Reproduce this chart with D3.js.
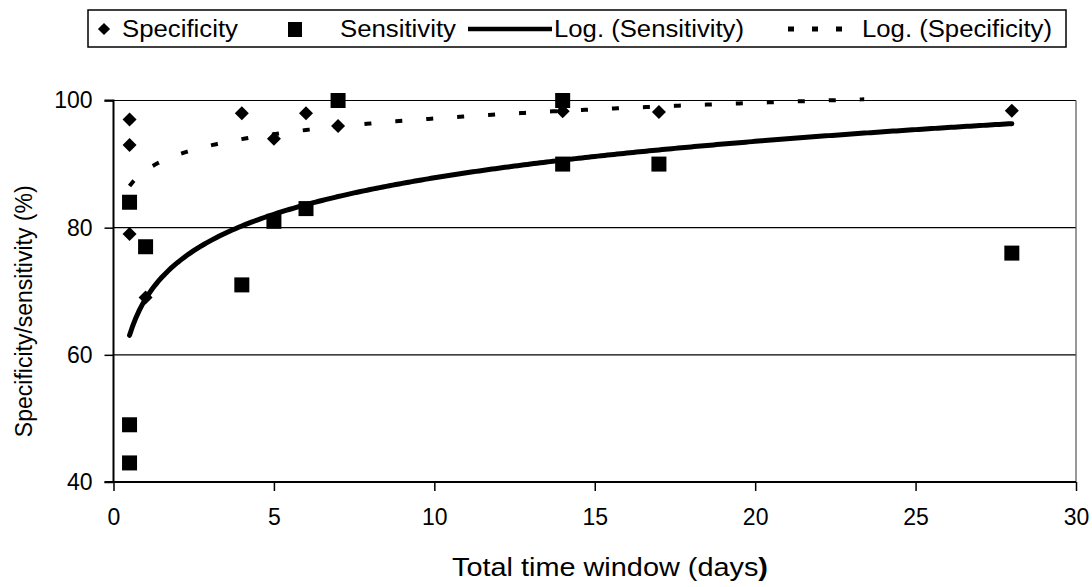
<!DOCTYPE html>
<html>
<head>
<meta charset="utf-8">
<script src="https://cdn.jsdelivr.net/npm/d3@7"></script>
<style>
  html, body { margin: 0; padding: 0; background: #fff; }
  svg { display: block; font-family: "Liberation Sans", Arial, sans-serif; }
</style>
</head>
<body>
<div id="chart"></div>
<script>
// ---- data ----
var specDays  = [0.5, 0.5, 0.5, 1, 4, 5, 6, 7, 14, 17, 28];
var specValue = [97, 93, 79, 69, 98, 94, 98, 96, 98.3, 98.2, 98.4];

var sensDays  = [0.5, 0.5, 0.5, 1, 4, 5, 6, 7, 14, 14, 17, 28];
var sensValue = [84, 49, 43, 77, 71, 81, 83, 100, 100, 90, 90, 76];

// logarithmic trendlines y = a + b*ln(x), coefficients
var sensTrend = { a: 68.8, b: 8.27 };
var specTrend = { a: 89.0, b: 3.55 };
var trendRange = [0.5, 28];

var xTicks = [0, 5, 10, 15, 20, 25, 30];
var yTicks = [40, 60, 80, 100];

var legendLabels = ['Specificity', 'Sensitivity', 'Log. (Sensitivity)', 'Log. (Specificity)'];

(function () {
  'use strict';

  var W = 1092, H = 587;
  var mLeft = 113.5, mRight = 1076, mTop = 100.5, mBottom = 482;
  var FONT = '"Liberation Sans", Arial, sans-serif';

  var svg = d3.select('#chart').append('svg')
    .attr('width', W).attr('height', H);

  var x = d3.scaleLinear().domain([0, 30]).range([mLeft, mRight]);
  var y = d3.scaleLinear().domain([40, 100]).range([mBottom, mTop]);

  // gridlines
  svg.append('g').selectAll('line')
    .data(yTicks.filter(function (d) { return d > 40; }))
    .join('line')
    .attr('x1', mLeft).attr('x2', mRight)
    .attr('y1', function (d) { return y(d); }).attr('y2', function (d) { return y(d); })
    .attr('stroke', '#000').attr('stroke-width', 1.2);

  // right plot border
  svg.append('line')
    .attr('x1', mRight).attr('x2', mRight).attr('y1', mTop).attr('y2', mBottom)
    .attr('stroke', '#555').attr('stroke-width', 1.2);

  // axes
  var gy = svg.append('g').attr('transform', 'translate(' + mLeft + ',0)')
    .call(d3.axisLeft(y).tickValues(yTicks).tickSize(9).tickPadding(12));
  var gx = svg.append('g').attr('transform', 'translate(0,' + mBottom + ')')
    .call(d3.axisBottom(x).tickValues(xTicks).tickSize(9).tickPadding(18));
  [gx, gy].forEach(function (g) {
    g.select('.domain').attr('stroke', '#000').attr('stroke-width', 2);
    g.selectAll('.tick line').attr('stroke', '#000').attr('stroke-width', 1.5);
    g.selectAll('.tick text').attr('fill', '#000')
      .style('font-size', '23px').style('font-family', FONT);
  });
  gy.select('.domain').attr('d', 'M-9,' + mTop + 'H0V' + mBottom + 'H-9');
  gx.select('.domain').attr('d', 'M' + mLeft + ',0H' + mRight);

  // axis titles
  svg.append('text')
    .attr('transform', 'translate(32,' + ((mTop + mBottom) / 2 + 20) + ') rotate(-90)')
    .attr('text-anchor', 'middle')
    .style('font-size', '23px')
    .text('Specificity/sensitivity (%)');

  var xt = svg.append('text')
    .attr('x', 452).attr('y', 576)
    .attr('textLength', 316)
    .attr('lengthAdjust', 'spacingAndGlyphs')
    .style('font-size', '25px');
  xt.append('tspan').text('Total time window (days');
  xt.append('tspan').attr('font-weight', 'bold').text(')');

  // trendlines (the chart stops them at the top of the value axis)
  var trendX = d3.range(trendRange[0], trendRange[1] + 0.001, 0.1);
  function trendLine(t) {
    var f = function (d) { return t.a + t.b * Math.log(d); };
    return d3.line()
      .defined(function (d) { return f(d) <= 100.2; })
      .x(function (d) { return x(d); })
      .y(function (d) { return y(f(d)); })(trendX);
  }

  svg.append('path')
    .attr('d', trendLine(specTrend))
    .attr('fill', 'none').attr('stroke', '#000')
    .attr('stroke-width', 4).attr('stroke-dasharray', '7,24');

  svg.append('path')
    .attr('d', trendLine(sensTrend))
    .attr('fill', 'none').attr('stroke', '#000')
    .attr('stroke-width', 5).attr('stroke-linecap', 'round');

  // markers
  var diamond = d3.symbol().type(d3.symbolDiamond2).size(125);
  svg.append('g').selectAll('path')
    .data(d3.range(specDays.length))
    .join('path')
    .attr('transform', function (i) { return 'translate(' + x(specDays[i]) + ',' + y(specValue[i]) + ')'; })
    .attr('d', diamond)
    .attr('fill', '#000');

  var sq = 15;
  svg.append('g').selectAll('rect')
    .data(d3.range(sensDays.length))
    .join('rect')
    .attr('x', function (i) { return x(sensDays[i]) - sq / 2; })
    .attr('y', function (i) { return y(sensValue[i]) - sq / 2; })
    .attr('width', sq).attr('height', sq)
    .attr('fill', '#000');

  // legend
  var lg = svg.append('g');
  lg.append('rect')
    .attr('x', 88).attr('y', 10).attr('width', 978).attr('height', 37)
    .attr('fill', '#fff').attr('stroke', '#000').attr('stroke-width', 1.5);

  lg.append('path')
    .attr('transform', 'translate(104,29)')
    .attr('d', d3.symbol().type(d3.symbolDiamond2).size(95)).attr('fill', '#000');
  lg.append('rect').attr('x', 288).attr('y', 22).attr('width', 14).attr('height', 15).attr('fill', '#000');
  lg.append('line').attr('x1', 468).attr('x2', 552).attr('y1', 29).attr('y2', 29)
    .attr('stroke', '#000').attr('stroke-width', 4.5);
  lg.append('line').attr('x1', 788).attr('x2', 854).attr('y1', 29).attr('y2', 29)
    .attr('stroke', '#000').attr('stroke-width', 5).attr('stroke-dasharray', '6,18');

  var legendX = [122, 340, 554, 862];
  var legendW = [116, 116, 190, 190];
  lg.selectAll('text.lbl')
    .data(legendLabels)
    .join('text')
    .attr('class', 'lbl')
    .attr('x', function (d, i) { return legendX[i]; })
    .attr('y', 37)
    .attr('textLength', function (d, i) { return legendW[i]; })
    .attr('lengthAdjust', 'spacingAndGlyphs')
    .style('font-size', '23px')
    .text(function (d) { return d; });
})();
</script>
</body>
</html>
